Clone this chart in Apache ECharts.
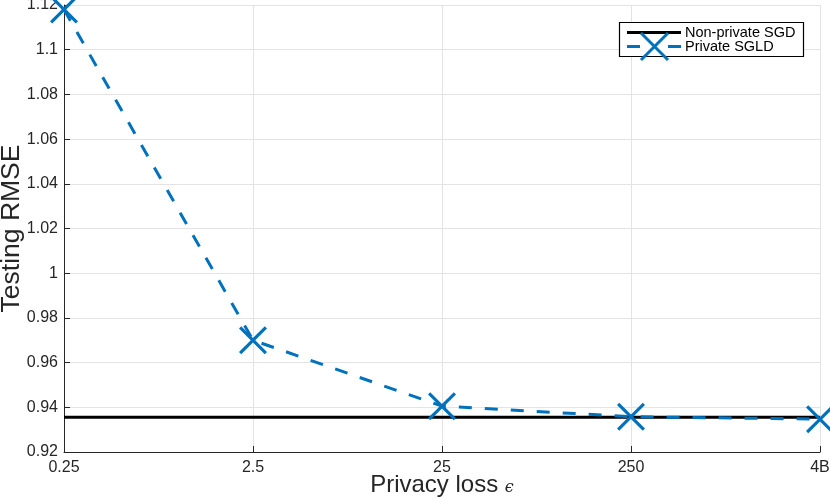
<!DOCTYPE html>
<html>
<head>
<meta charset="utf-8">
<script src="https://cdn.jsdelivr.net/npm/echarts@6/dist/echarts.min.js"></script>
<style>
html,body{margin:0;padding:0;background:#fff;}
#c{width:830px;height:498px;}
</style>
</head>
<body>
<div id="c"></div>
<script>
const categories = ['0.25', '2.5', '25', '250', '4B'];
const privateSGLD = [1.118, 0.970, 0.9405, 0.9358, 0.9347];
const nonPrivateSGD = [0.9355, 0.9355, 0.9355, 0.9355, 0.9355];
const yTicks = { min: 0.92, max: 1.12, interval: 0.02 };
const seriesNames = ['Non-private SGD', 'Private SGLD'];

const BLUE = '#0072BD';
const xPath = 'path://M0,8L8,0L50,42L92,0L100,8L58,50L100,92L92,100L50,58L8,100L0,92L42,50Z';
const font = 'Liberation Sans, Arial, Helvetica, sans-serif';

const chart = echarts.init(document.getElementById('c'), null, { renderer: 'canvas' });
chart.setOption({
  animation: false,
  backgroundColor: '#fff',
  textStyle: { fontFamily: font },
  grid: { left: 64, right: 10, top: 5, bottom: 46, containLabel: false, outerBoundsMode: 'none' },
  graphic: [
    { type: 'rect', shape: { x: 619.5, y: 22.5, width: 184, height: 34 }, style: { fill: '#fff', stroke: '#000', lineWidth: 1.2 }, z: 100 },
    { type: 'line', shape: { x1: 627, y1: 32.5, x2: 681, y2: 32.5 }, style: { stroke: '#000', lineWidth: 3 }, z: 101 },
    { type: 'line', shape: { x1: 627, y1: 46.5, x2: 640, y2: 46.5 }, style: { stroke: BLUE, lineWidth: 3 }, z: 101 },
    { type: 'line', shape: { x1: 668, y1: 46.5, x2: 681, y2: 46.5 }, style: { stroke: BLUE, lineWidth: 3 }, z: 101 },
    { type: 'line', shape: { x1: 641, y1: 33, x2: 668, y2: 60 }, style: { stroke: BLUE, lineWidth: 3 }, z: 102 },
    { type: 'line', shape: { x1: 668, y1: 33, x2: 641, y2: 60 }, style: { stroke: BLUE, lineWidth: 3 }, z: 102 },
    { type: 'text', x: 685, y: 32.5, style: { text: seriesNames[0], font: '14.5px ' + font, fill: '#000', textVerticalAlign: 'middle', verticalAlign: 'middle' }, z: 103 },
    { type: 'text', x: 685, y: 46.5, style: { text: seriesNames[1], font: '14.5px ' + font, fill: '#000', textVerticalAlign: 'middle', verticalAlign: 'middle' }, z: 103 }
  ],
  xAxis: {
    type: 'category',
    data: categories,
    boundaryGap: false,
    name: '{a|Privacy loss }{e|ϵ}',
    nameLocation: 'middle',
    nameGap: 21,
    nameMoveOverlap: false,
    nameTextStyle: {
      verticalAlign: 'top',
      rich: {
        a: { fontFamily: font, fontSize: 24, color: '#262626' },
        e: { fontFamily: 'DejaVu Serif, serif', fontStyle: 'italic', fontSize: 16, color: '#262626', padding: [5, 0, 0, 0] }
      }
    },
    axisLine: { show: true, lineStyle: { color: '#262626', width: 1 } },
    axisTick: { show: true, inside: true, length: 6, alignWithLabel: true, lineStyle: { color: '#262626' } },
    axisLabel: { fontFamily: font, fontSize: 16, color: '#262626', margin: 8 },
    splitLine: { show: true, lineStyle: { color: '#e3e3e3', width: 1 } }
  },
  yAxis: {
    type: 'value',
    min: yTicks.min,
    max: yTicks.max,
    interval: yTicks.interval,
    name: 'Testing RMSE',
    nameLocation: 'middle',
    nameGap: 39,
    nameMoveOverlap: false,
    nameTextStyle: { fontFamily: font, fontSize: 26.5, color: '#262626' },
    axisLine: { show: true, lineStyle: { color: '#262626', width: 1 } },
    axisTick: { show: true, inside: true, length: 6, lineStyle: { color: '#262626' } },
    axisLabel: {
      fontFamily: font, fontSize: 16, color: '#262626', margin: 6,
      formatter: v => parseFloat(v.toFixed(2)).toString()
    },
    splitLine: { show: true, lineStyle: { color: '#e3e3e3', width: 1 } }
  },
  series: [
    {
      name: seriesNames[0],
      type: 'line',
      data: nonPrivateSGD,
      symbol: 'none',
      lineStyle: { color: '#000', width: 3 },
      itemStyle: { color: '#000' },
      z: 2
    },
    {
      name: seriesNames[1],
      type: 'line',
      data: privateSGLD,
      symbol: xPath,
      symbolSize: 28,
      lineStyle: { color: BLUE, width: 3, type: [13, 13] },
      itemStyle: { color: BLUE },
      z: 3
    }
  ]
});
</script>
</body>
</html>
